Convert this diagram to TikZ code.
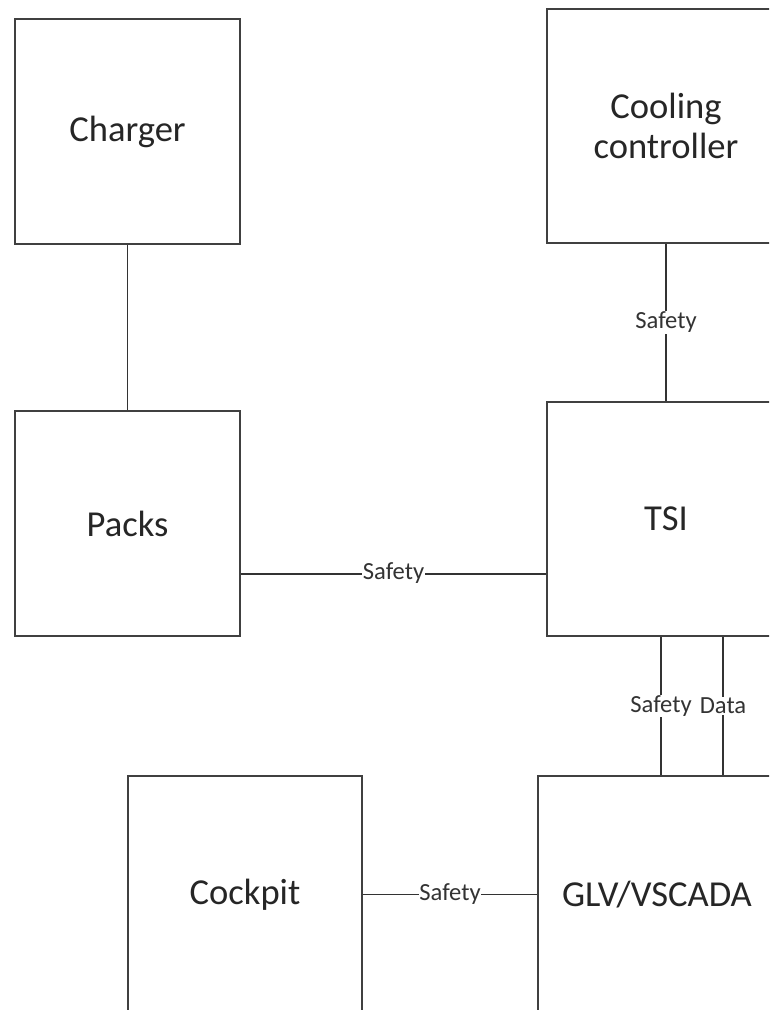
\documentclass[tikz,border=0pt]{standalone}
\usepackage{fontspec}
\setmainfont{Carlito}
\usepackage{tikz}
\usetikzlibrary{positioning}

\begin{document}
\begin{tikzpicture}[
        x=0.025cm, y=-0.025cm,
        unit/.style={rectangle, draw=black!75, line width=1.5pt, fill=white, text=black!85, align=center, font=\fontsize{26}{29}\selectfont, inner sep=0pt},
        unitwide/.style={unit, minimum width=5.95cm, minimum height=5.85cm},
        unitsq/.style={unit, minimum width=5.625cm, minimum height=5.625cm},
        unitlow/.style={unit, minimum width=5.85cm, minimum height=5.925cm},
        link/.style={draw=black!80, line width=1.4pt},
        tag/.style={fill=white, inner sep=0.5pt, text=black!80, font=\fontsize{17.5}{19}\selectfont}
    ]
    \useasboundingbox (0,0) rectangle (769,1010);
    \clip (0,0) rectangle (769,1010);

    % Bloques
    \node[unitsq] (charger) at (127.5, 131.5) {Charger};
    \node[unitwide] (cooling) at (666, 126) {Cooling\\controller};
    \node[unitsq] (packs) at (127.5, 523.5) {Packs};
    \node[unitwide] (tsi) at (666, 519) {TSI};
    \node[unitlow] (cockpit) at (245, 894.5) {Cockpit};
    \node[unitlow, minimum width=5.95cm] (glv) at (657, 894.5) {GLV/VSCADA};

    % Conexiones
    \draw[link] (charger.south) -- (packs.north);
    \draw[link] (cooling.south) -- (tsi.north) node[midway, tag] {Safety};
    \coordinate (pk) at ([yshift=-1.25cm]packs.east);
    \draw[link] (pk) -- (pk -| tsi.west) node[midway, tag] {Safety};
    \coordinate (ts) at ([xshift=-0.125cm]tsi.south);
    \coordinate (td) at ([xshift=1.425cm]tsi.south);
    \draw[link] (ts) -- (ts |- glv.north) node[midway, tag] {Safety};
    \draw[link] (td) -- (td |- glv.north) node[midway, tag] {Data};
    \draw[link] (cockpit.east) -- (glv.west) node[midway, tag] {Safety};
\end{tikzpicture}
\end{document}
